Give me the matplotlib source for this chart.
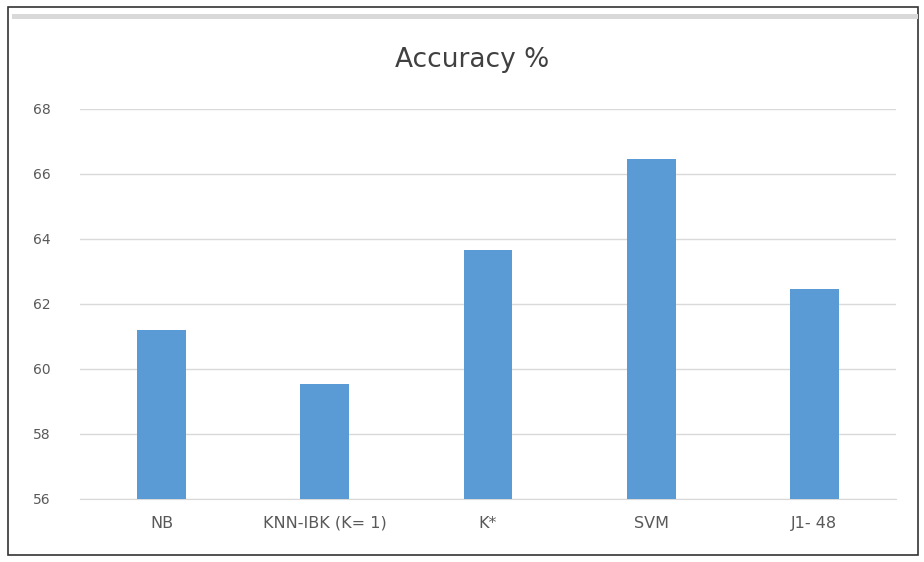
import matplotlib
matplotlib.use('Agg')
import matplotlib.pyplot as plt
from matplotlib.patches import Rectangle

classifiers = ['NB', 'KNN-IBK (K= 1)', 'K*', 'SVM', 'J1- 48']
accuracy = [61.2, 59.55, 63.65, 66.45, 62.45]
y_ticks = [56, 58, 60, 62, 64, 66, 68]

fig = plt.figure(figsize=(9.24, 5.62), dpi=100)

# outer frame like the pasted excel chart
fig.patches.append(Rectangle((8 / 924, 7 / 562), 910 / 924, 548 / 562, transform=fig.transFigure,
                             fill=False, edgecolor='#333333', linewidth=1.2))
fig.patches.append(Rectangle((12 / 924, 543 / 562), 906 / 924, 5 / 562, transform=fig.transFigure,
                             facecolor='#d9d9d9', edgecolor='none'))

ax = fig.add_axes([80 / 924, (562 - 499) / 562, 816 / 924, 390 / 562])
ax.bar(range(len(classifiers)), accuracy, width=0.3, color='#5b9bd5', zorder=3)
ax.set_ylim(56, 68)
ax.set_xlim(-0.5, len(classifiers) - 0.5)
ax.set_yticks(y_ticks)
ax.set_xticks(range(len(classifiers)))
ax.set_xticklabels(classifiers, fontsize=11.5)
ax.grid(axis='y', color='#d9d9d9', linewidth=1, zorder=0)
for s in ['top', 'right', 'left']:
    ax.spines[s].set_visible(False)
ax.spines['bottom'].set_color('#d9d9d9')
ax.tick_params(axis='both', length=0, colors='#595959')
ax.tick_params(axis='y', pad=21, labelsize=10)
ax.tick_params(axis='x', pad=12)

fig.text(0.511, (562 - 60) / 562, 'Accuracy %', ha='center', va='center', fontsize=19, color='#404040')

plt.savefig('out.png', dpi=100)
